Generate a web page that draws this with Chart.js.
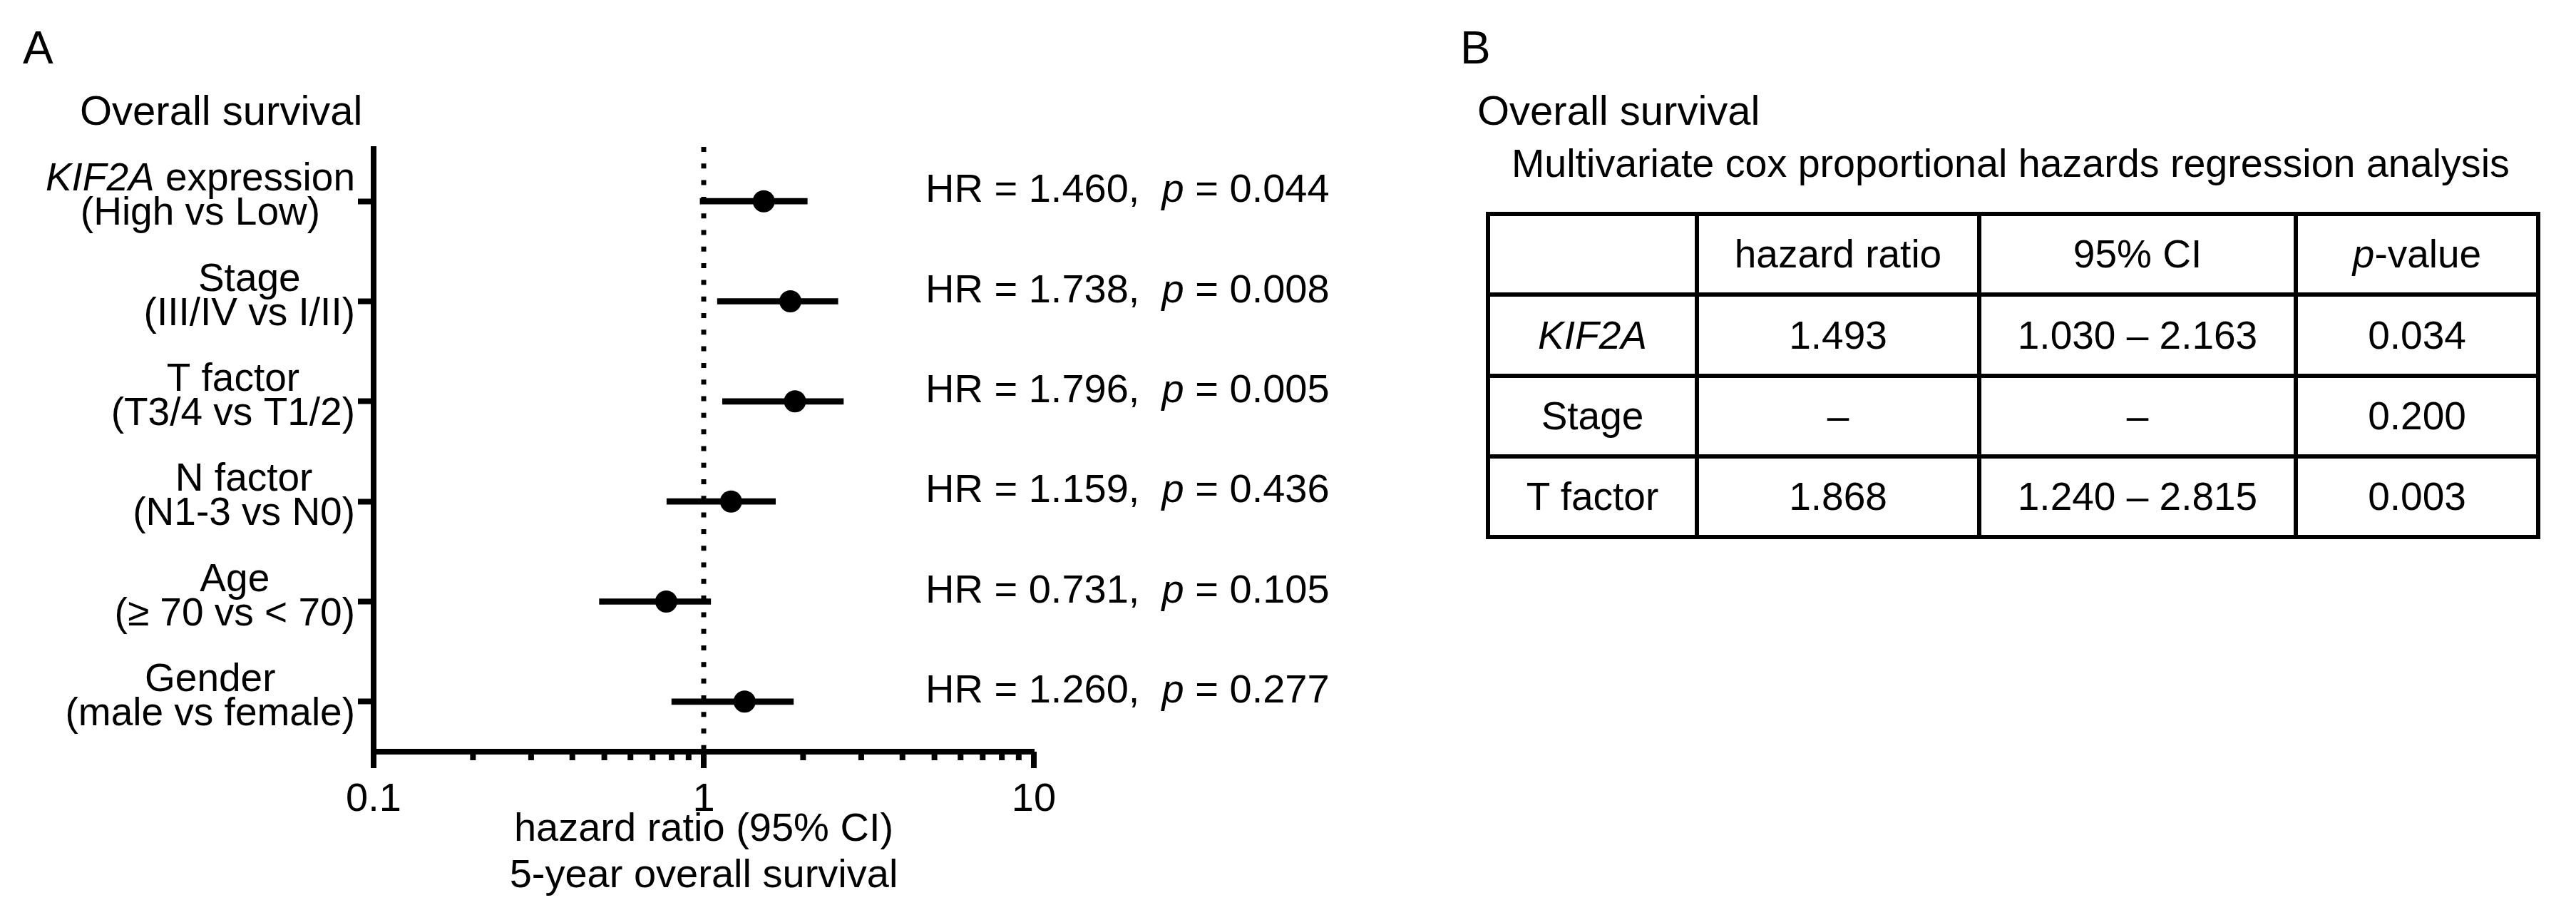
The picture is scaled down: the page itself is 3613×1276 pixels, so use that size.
<!DOCTYPE html>
<html><head><meta charset="utf-8">
<script src="https://cdn.jsdelivr.net/npm/chart.js@4.4.1/dist/chart.umd.min.js"></script>
<style>
html,body{margin:0;padding:0;background:#fff;}
body{width:3613px;height:1276px;position:relative;overflow:hidden;font-family:"Liberation Sans",Arial,sans-serif;color:#000;}
#chartA{position:absolute;left:0;top:0;}
.t{position:absolute;white-space:nowrap;line-height:1;}
.cell{position:absolute;display:flex;align-items:center;justify-content:center;font-size:55px;line-height:1;white-space:nowrap;}
.ln{position:absolute;background:#000;}
</style></head><body>
<canvas id="chartA" width="1900" height="1276" style="width:1900px;height:1276px"></canvas>
<script>
// ---------- Panel A data ----------
const categories = ['KIF2A', 'Stage', 'T factor', 'N factor', 'Age', 'Gender'];
const labelTop = ['<i>KIF2A</i> expression', 'Stage', 'T factor', 'N factor', 'Age', 'Gender'];
const labelBottom = ['(High vs Low)', '(III/IV vs I/II)', '(T3/4 vs T1/2)', '(N1-3 vs N0)', '(\u2265 70 vs < 70)', '(male vs female)'];
const hrPoint = [1.52, 1.83, 1.89, 1.21, 0.77, 1.33];
const ciLow = [0.975, 1.10, 1.14, 0.773, 0.483, 0.80];
const ciHigh = [2.06, 2.55, 2.65, 1.65, 1.05, 1.87];
const hrText = ['1.460', '1.738', '1.796', '1.159', '0.731', '1.260'];
const pText = ['0.044', '0.008', '0.005', '0.436', '0.105', '0.277'];
const majorTicks = [0.1, 1, 10];
const minorTicks = [0.2, 0.3, 0.4, 0.5, 0.6, 0.7, 0.8, 0.9, 2, 3, 4, 5, 6, 7, 8, 9];
const referenceLine = 1;
const xTitle = ['hazard ratio (95% CI)', '5-year overall survival'];

// ---------- Panel B data ----------
const tableHeader = ['', 'hazard ratio', '95% CI', '<i>p</i>-value'];
const tableRows = ['<i>KIF2A</i>', 'Stage', 'T factor'];
const tableHR = ['1.493', '\u2013', '1.868'];
const tableCI = ['1.030 \u2013 2.163', '\u2013', '1.240 \u2013 2.815'];
const tableP = ['0.034', '0.200', '0.003'];

// ---------- helpers ----------
const ink = '#000';
const FONT = '"Liberation Sans", Arial, sans-serif';
function segs(s) {
  const out = []; const re = /<i>(.*?)<\/i>/g; let last = 0, m;
  while ((m = re.exec(s))) {
    if (m.index > last) out.push({t: s.slice(last, m.index), i: false});
    out.push({t: m[1], i: true}); last = re.lastIndex;
  }
  if (last < s.length) out.push({t: s.slice(last), i: false});
  return out;
}
function fnt(seg, size) { return (seg.i ? 'italic ' : '') + size + 'px ' + FONT; }
function richWidth(ctx, s, size) {
  return segs(s).reduce((w, g) => { ctx.font = fnt(g, size); return w + ctx.measureText(g.t).width; }, 0);
}
function drawRich(ctx, s, x, y, size) {
  ctx.textAlign = 'left'; ctx.textBaseline = 'alphabetic';
  for (const g of segs(s)) { ctx.font = fnt(g, size); ctx.fillText(g.t, x, y); x += ctx.measureText(g.t).width; }
}
const isMajor = v => majorTicks.some(m => Math.abs(m - v) < 1e-9);

const forestDecor = {
  id: 'forestDecor',
  beforeDatasetsDraw(chart) {
    const {ctx, chartArea, scales: {x}} = chart;
    const px = x.getPixelForValue(referenceLine);
    ctx.save();
    ctx.strokeStyle = ink; ctx.lineWidth = 7; ctx.setLineDash([7, 16.3]);
    ctx.beginPath(); ctx.moveTo(px, chartArea.top - 6); ctx.lineTo(px, chartArea.bottom - 4); ctx.stroke();
    ctx.restore();
  },
  afterDraw(chart) {
    const {ctx, chartArea, scales: {x, y}} = chart;
    ctx.save();
    ctx.fillStyle = ink;
    for (const t of x.ticks) {
      const px = x.getPixelForValue(t.value);
      ctx.fillRect(px - 4, chartArea.bottom, 8, isMajor(t.value) ? 23 : 12);
    }
    ctx.fillRect(chartArea.left - 4, chartArea.top - 7, 8, 9);
    categories.forEach((c, i) => {
      const py = y.getPixelForValue(i);
      const w1 = richWidth(ctx, labelTop[i], 55), w2 = richWidth(ctx, labelBottom[i], 55);
      const cx = 498 - Math.max(w1, w2) / 2;
      drawRich(ctx, labelTop[i], cx - w1 / 2, py - 15, 55);
      drawRich(ctx, labelBottom[i], cx - w2 / 2, py + 33, 55);
      drawRich(ctx, 'HR = ' + hrText[i] + ',  <i>p</i> = ' + pText[i], 1298, py + 1, 56);
    });
    ctx.restore();
  }
};

new Chart(document.getElementById('chartA'), {
  type: 'bar',
  data: {
    labels: categories,
    datasets: [
      {type: 'line', label: 'HR', data: hrPoint, indexAxis: 'y', showLine: false,
       pointRadius: 15.5, pointHoverRadius: 15.5, pointBackgroundColor: ink, pointBorderWidth: 0, borderColor: ink, order: 0},
      {type: 'bar', label: '95% CI', data: ciLow.map((l, i) => [l, ciHigh[i]]), indexAxis: 'y',
       backgroundColor: ink, borderWidth: 0, barThickness: 8, order: 1}
    ]
  },
  options: {
    indexAxis: 'y', responsive: false, devicePixelRatio: 1, animation: false,
    layout: {padding: {top: 212, right: 450, bottom: 0, left: 0}},
    plugins: {legend: {display: false}, tooltip: {enabled: false}},
    scales: {
      x: {
        type: 'logarithmic', position: 'bottom', min: 0.1, max: 10,
        afterBuildTicks(s) { s.ticks = [...majorTicks, ...minorTicks].sort((a, b) => a - b).map(v => ({value: v})); },
        afterFit(s) { s.height = 222; },
        grid: {display: true, drawOnChartArea: false, drawTicks: true, tickLength: 23, tickColor: 'rgba(0,0,0,0)'},
        border: {display: true, color: ink, width: 8},
        ticks: {autoSkip: false, maxRotation: 0, minRotation: 0, padding: 11, color: ink,
                font: {family: FONT, size: 56}, callback: v => isMajor(v) ? String(v) : ''},
        title: {display: true, text: xTitle, color: ink, font: {family: FONT, size: 56, lineHeight: 65 / 56},
                padding: {top: 0, bottom: 15}}
      },
      y: {
        type: 'category', position: 'left', offset: true,
        afterFit(s) { s.width = 524; },
        grid: {display: true, offset: false, drawOnChartArea: false, drawTicks: true, tickLength: 22, tickWidth: 8, tickColor: ink},
        border: {display: true, color: ink, width: 8},
        ticks: {callback: () => '', padding: 0}
      }
    }
  },
  plugins: [forestDecor]
});

// ---------- HTML text & table ----------
function addText(html, left, top, size) {
  const d = document.createElement('div'); d.className = 't';
  d.style.left = left + 'px'; d.style.top = top + 'px'; d.style.fontSize = size + 'px';
  d.innerHTML = html; document.body.appendChild(d);
}
addText('A', 32, 35, 64);
addText('Overall survival', 112, 126, 58);
addText('B', 2048, 35, 64);
addText('Overall survival', 2072, 126, 58);
addText('Multivariate cox proportional hazards regression analysis', 2120, 202, 55.6);

const colX = [2087, 2380, 2776, 3220, 3560];
const rowY = [300, 413, 527, 640, 753];
const rows = [tableHeader].concat(tableRows.map((r, i) => [r, tableHR[i], tableCI[i], tableP[i]]));
rows.forEach((row, r) => row.forEach((txt, c) => {
  const d = document.createElement('div'); d.className = 'cell';
  d.style.left = (colX[c] + 3) + 'px'; d.style.width = (colX[c + 1] - colX[c] - 6) + 'px';
  d.style.top = (rowY[r] + 3) + 'px'; d.style.height = (rowY[r + 1] - rowY[r] - 6) + 'px';
  d.innerHTML = txt; document.body.appendChild(d);
}));
colX.forEach(x => {
  const d = document.createElement('div'); d.className = 'ln';
  d.style.left = (x - 3) + 'px'; d.style.top = (rowY[0] - 3) + 'px';
  d.style.width = '6px'; d.style.height = (rowY[rowY.length - 1] - rowY[0] + 6) + 'px';
  document.body.appendChild(d);
});
rowY.forEach(y => {
  const d = document.createElement('div'); d.className = 'ln';
  d.style.left = (colX[0] - 3) + 'px'; d.style.top = (y - 3) + 'px';
  d.style.width = (colX[colX.length - 1] - colX[0] + 6) + 'px'; d.style.height = '6px';
  document.body.appendChild(d);
});
</script>
</body></html>
